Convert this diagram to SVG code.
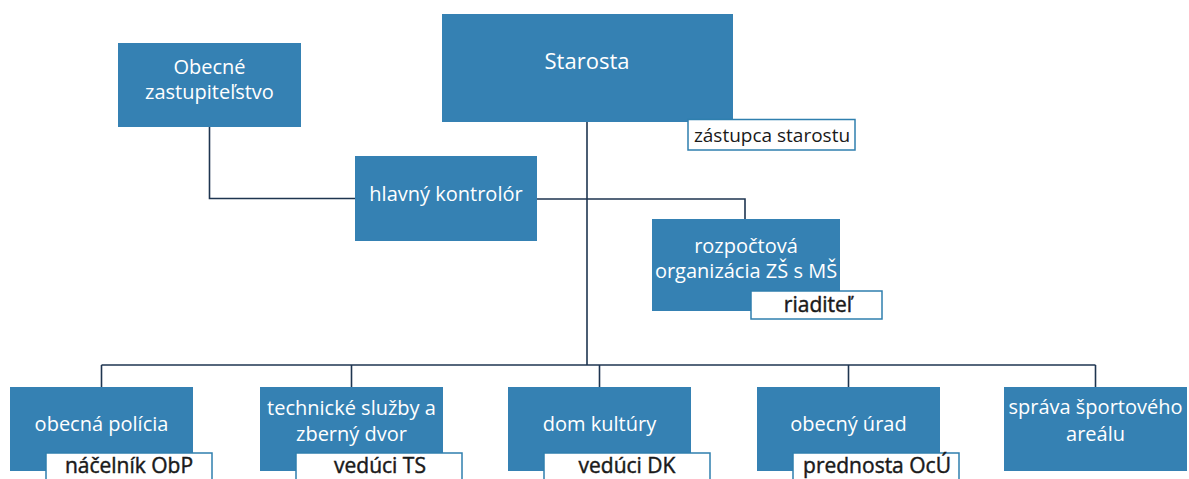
<svg xmlns="http://www.w3.org/2000/svg" width="1189" height="479" viewBox="0 0 1189 479">
  <style>
    .box { fill: #3581b3; }
    .lbl { fill: #ffffff; stroke: #2f7fae; stroke-width: 1.5; }
    .t { font-family: "Open Sans", "Noto Sans", "Liberation Sans", sans-serif; font-size: 20px; fill: #ffffff; text-anchor: middle; }
    .big { font-size: 22px; }
    .lt { font-family: "Open Sans", "Noto Sans", "Liberation Sans", sans-serif; font-size: 21px; fill: #1a1a1a; stroke: #1a1a1a; stroke-width: 0.45; text-anchor: middle; }
    .zt { font-family: "Open Sans", "Noto Sans", "Liberation Sans", sans-serif; font-size: 19px; fill: #1a1a1a; text-anchor: middle; }
    .ln { fill: none; stroke: #1e3550; stroke-width: 1.6; }
  </style>
  <rect width="1189" height="479" fill="#ffffff"/>

  <g id="connectors">
    <polyline class="ln" points="209.5,127 209.5,198.5 355,198.5"/>
    <polyline class="ln" points="537,199 745,199 745,219"/>
    <line class="ln" x1="587" y1="122" x2="587" y2="365"/>
    <line class="ln" x1="101.5" y1="365" x2="1095.5" y2="365"/>
    <line class="ln" x1="101.5" y1="365" x2="101.5" y2="387"/>
    <line class="ln" x1="351.5" y1="365" x2="351.5" y2="387"/>
    <line class="ln" x1="599.5" y1="365" x2="599.5" y2="387"/>
    <line class="ln" x1="848.5" y1="365" x2="848.5" y2="387"/>
    <line class="ln" x1="1095.5" y1="365" x2="1095.5" y2="387"/>
  </g>

  <g id="zastupitelstvo">
    <rect class="box" x="118" y="43" width="183" height="84"/>
    <text class="t" x="209.5" y="74">Obecné</text>
    <text class="t" x="209.5" y="99">zastupiteľstvo</text>
  </g>

  <g id="starosta">
    <rect class="box" x="442" y="14" width="291" height="108"/>
    <text class="t big" x="587" y="69">Starosta</text>
    <rect class="lbl" x="688" y="119.5" width="167" height="30.5"/>
    <text class="zt" x="772" y="142">zástupca starostu</text>
  </g>

  <g id="kontrolor">
    <rect class="box" x="355" y="156" width="182" height="85"/>
    <text class="t" x="446" y="201">hlavný kontrolór</text>
  </g>

  <g id="zs-ms">
    <rect class="box" x="652" y="219" width="188" height="92"/>
    <text class="t" x="746" y="253">rozpočtová</text>
    <text class="t" x="746" y="278">organizácia ZŠ s MŠ</text>
    <rect class="lbl" x="751" y="291" width="131" height="28"/>
    <text class="lt" x="818" y="312">riaditeľ</text>
  </g>

  <g id="policia">
    <rect class="box" x="10" y="387" width="183" height="84"/>
    <text class="t" x="101.5" y="431">obecná polícia</text>
    <rect class="lbl" x="46" y="453" width="166" height="34"/>
    <text class="lt" x="129" y="473">náčelník ObP</text>
  </g>

  <g id="technicke-sluzby">
    <rect class="box" x="260" y="387" width="183" height="84"/>
    <text class="t" x="351.5" y="415">technické služby a</text>
    <text class="t" x="351.5" y="441">zberný dvor</text>
    <rect class="lbl" x="296" y="453" width="166" height="34"/>
    <text class="lt" x="380" y="473">vedúci TS</text>
  </g>

  <g id="dom-kultury">
    <rect class="box" x="508" y="387" width="183" height="84"/>
    <text class="t" x="599.5" y="431">dom kultúry</text>
    <rect class="lbl" x="544" y="453" width="166" height="34"/>
    <text class="lt" x="627" y="473">vedúci DK</text>
  </g>

  <g id="obecny-urad">
    <rect class="box" x="757" y="387" width="183" height="84"/>
    <text class="t" x="848.5" y="431">obecný úrad</text>
    <rect class="lbl" x="793" y="453" width="166" height="34"/>
    <text class="lt" x="877" y="473">prednosta OcÚ</text>
  </g>

  <g id="sportovy-areal">
    <rect class="box" x="1004" y="387" width="183" height="84"/>
    <text class="t" x="1095.5" y="414">správa športového</text>
    <text class="t" x="1095.5" y="441">areálu</text>
  </g>
</svg>
